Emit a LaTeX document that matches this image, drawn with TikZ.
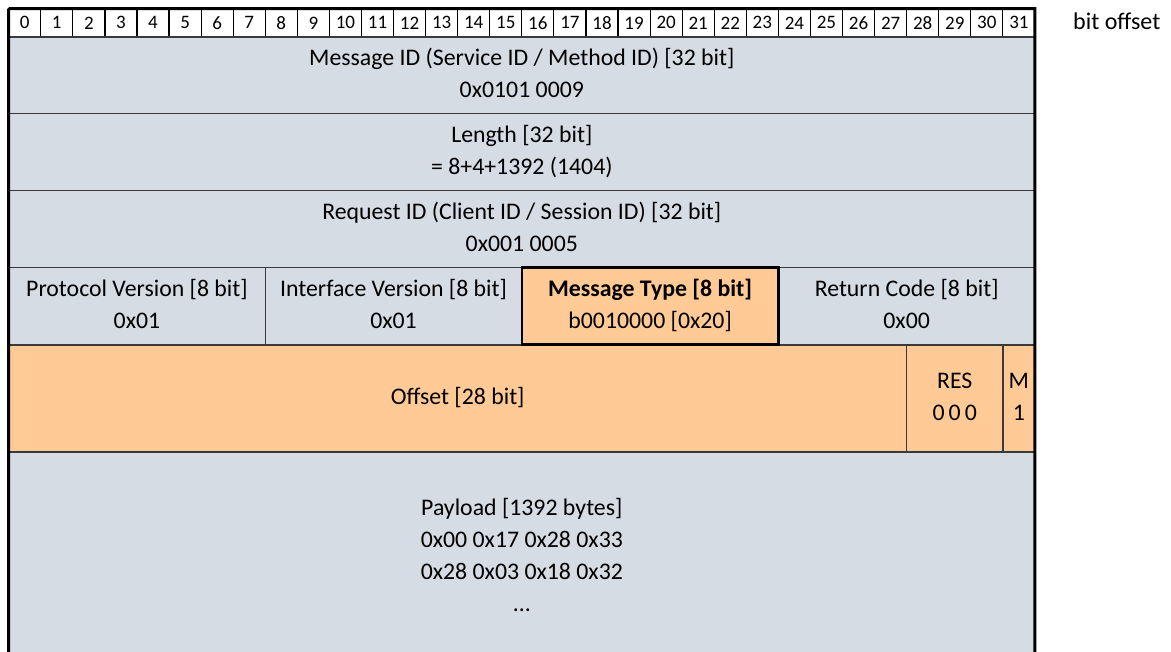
\documentclass[tikz,border=0pt]{standalone}
\usepackage{fontspec}
\setmainfont{Carlito}
\definecolor{cellgray}{HTML}{D6DCE4}
\definecolor{cellorange}{HTML}{FFCA96}
\definecolor{gridline}{HTML}{3A3A3A}
\begin{document}
\begin{tikzpicture}[x=1pt,y=-1pt,
  cell/.style={draw=gridline, line width=1.5pt, inner sep=0pt, outer sep=0pt, rectangle, align=center,
    font=\fontsize{23.8}{32}\selectfont},
  graycell/.style={cell, fill=cellgray},
  orangecell/.style={cell, fill=cellorange},
  bitcell/.style={draw=black, line width=1.2pt, fill=white, inner sep=0pt, outer sep=0pt,
    minimum width=32.07pt, minimum height=28.3pt, font=\fontsize{19}{20}\selectfont},
  hilite/.style={draw=black, line width=2.6pt},
  frame/.style={draw=black, line width=3pt}
]
\useasboundingbox (0,0) rectangle (1171,652);
\clip (0,0) rectangle (1171,652);

% bit offset header
\foreach \k in {0,...,31}{
  \node[bitcell] (b\k) at ({8.7+32.07*\k+16.035},22.85) {\k};
}
\node[anchor=base west, inner sep=0pt, font=\fontsize{24}{28}\selectfont] (bitoffset) at (1073,29.5) {bit offset};

% 32-bit rows
\node[graycell, minimum width=1026.24pt, minimum height=76.3pt] (msgid) at (521.82,75.15)
  {\strut Message ID (Service ID / Method ID) [32 bit]\\\strut 0x0101 0009};
\node[graycell, minimum width=1026.24pt, minimum height=77.2pt] (length) at (521.82,151.9)
  {\strut Length [32 bit]\\\strut = 8+4+1392 (1404)};
\node[graycell, minimum width=1026.24pt, minimum height=76.8pt] (reqid) at (521.82,228.9)
  {\strut Request ID (Client ID / Session ID) [32 bit]\\\strut 0x001 0005};

% 8-bit fields
\node[graycell, minimum width=256.56pt, minimum height=77.5pt] (proto) at (136.98,306.05)
  {\strut Protocol Version [8 bit]\\\strut 0x01};
\node[graycell, minimum width=256.56pt, minimum height=77.5pt] (iface) at (393.54,306.05)
  {\strut Interface Version [8 bit]\\\strut 0x01};
\node[graycell, minimum width=256.56pt, minimum height=77.5pt] (retcode) at (906.66,306.05)
  {\strut Return Code [8 bit]\\\strut 0x00};
\node[orangecell, hilite, minimum width=256.56pt, minimum height=77.5pt] (msgtype) at (650.1,306.05)
  {\strut\textbf{Message Type [8 bit]}\\\strut b0010000 [0x20]};

% TP header row
\node[orangecell, minimum width=897.96pt, minimum height=107pt] (offset) at (457.68,398.3)
  {\strut Offset [28 bit]};
\node[orangecell, minimum width=96.21pt, minimum height=107pt] (res) at (954.77,398.3)
  {\strut RES\\\strut 0\hspace{4pt}0\hspace{4pt}0};
\node[orangecell, minimum width=32.07pt, minimum height=107pt] (mflag) at (1018.9,398.3)
  {\strut M\\\strut 1};

% payload
\node[graycell, minimum width=1026.24pt, minimum height=211.2pt] (payload) at (521.82,557.4)
  {\strut Payload [1392 bytes]\\\strut 0x00 0x17 0x28 0x33\\\strut 0x28 0x03 0x18 0x32\\\strut ...};

% redraw highlighted box and outer frame on top
\draw[hilite] (msgtype.north west) rectangle (msgtype.south east);
\draw[frame] (b0.north west) -- (b31.north east) -- (payload.south east);
\draw[frame] (b0.north west) -- (payload.south west);
\end{tikzpicture}
\end{document}
